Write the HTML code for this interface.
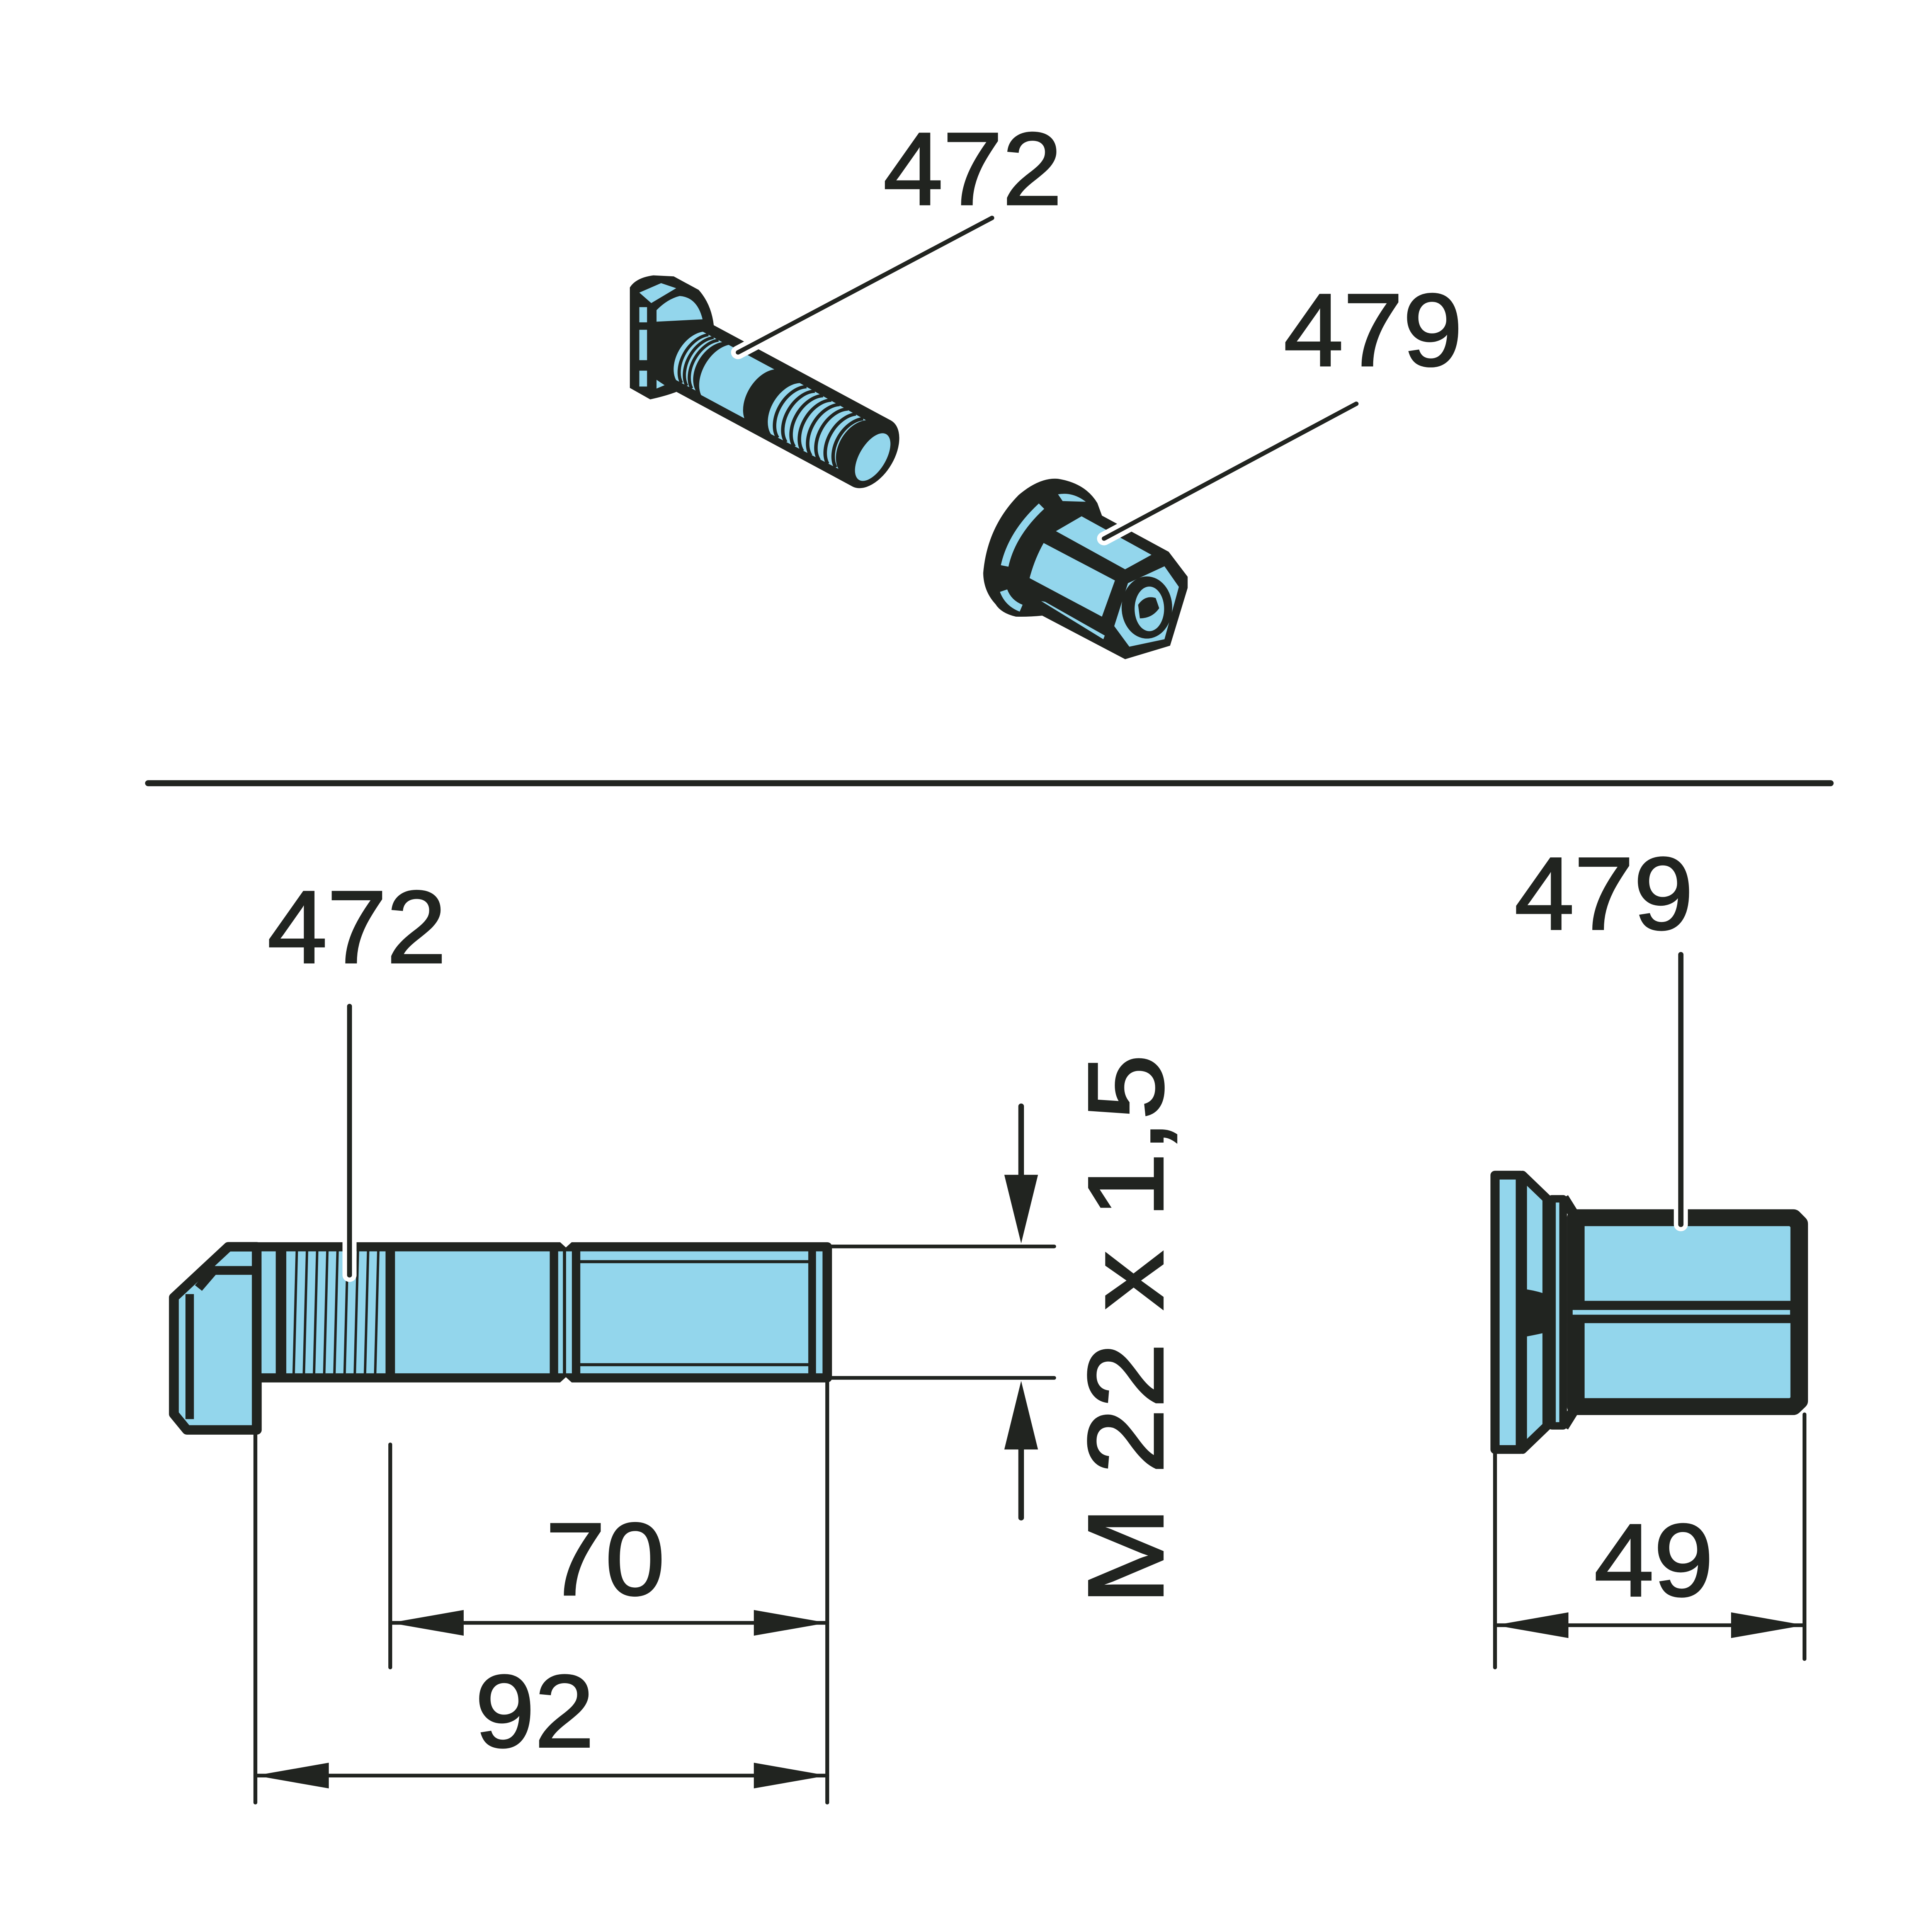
<!DOCTYPE html>
<html><head><meta charset="utf-8">
<style>html,body{margin:0;padding:0;background:#fff;overflow:hidden;width:100%;height:100%}svg{display:block;position:absolute;left:0;top:0;width:100vw;height:100vh}</style></head>
<body>
<svg xmlns="http://www.w3.org/2000/svg" viewBox="0 0 5500 5718" preserveAspectRatio="none">
<defs>
<style>
.t{font-family:"Liberation Sans",Arial,sans-serif;font-size:305px;fill:#212420;stroke:#212420;stroke-width:5px}
.L{fill:#93d6ec}
</style>
</defs>
<rect width="5500" height="5718" fill="#fff"/>

<!-- ===== Iso bolt 472 ===== -->
<g stroke-linejoin="round">
<path d="M1793,851 Q1810,822 1860,815 L1918,818 L1989,858 Q2025,900 2032,963 L1925,1160 Q1895,1172 1851,1182 L1793,1148 Z" fill="#212420"/>
<polygon class="L" points="1820,866 1854,897 1925,853 1882,838"/>
<path class="L" d="M1869,918 Q1900,885 1935,876 Q1985,880 2000,945 L1869,952 Z"/>
<rect class="L" x="1820" y="909" width="22" height="45"/>
<rect class="L" x="1820" y="976" width="22" height="90"/>
<rect class="L" x="1820" y="1097" width="22" height="47"/>
<polygon class="L" points="1869,1124 1892,1140 1869,1150"/>
</g>
<g transform="translate(1975,1059) rotate(29.2)">
<rect x="-30" y="-112" width="610" height="224" fill="#212420"/>
<ellipse cx="580" cy="0" rx="65" ry="112" fill="#212420"/>
<path class="L" d="M-15,-80 A60 90 0 0 0 -12,82 L52,82 A60 90 0 0 1 48,-80 Z"/>
<g fill="none" style="stroke:#212420;stroke-width:9px">
<path d="M3,-80 A60 90 0 0 0 6,82"/>
<path d="M20,-80 A60 90 0 0 0 23,82"/>
<path d="M36,-80 A60 90 0 0 0 39,82"/>
</g>
<path class="L" d="M68,-82 A60 95 0 0 0 72,86 L213,86 A60 95 0 0 1 217,-82 Z"/>
<path class="L" d="M300,-82 A60 92 0 0 0 302,90 L520,86 A60 90 0 0 1 518,-78 Z"/>
<g fill="none" style="stroke:#212420;stroke-width:10px">
<path d="M322,-82 A60 92 0 0 0 324,90"/>
<path d="M349,-82 A60 92 0 0 0 351,90"/>
<path d="M376,-82 A60 92 0 0 0 378,90"/>
<path d="M403,-82 A60 92 0 0 0 405,90"/>
<path d="M430,-82 A60 92 0 0 0 432,90"/>
<path d="M457,-82 A60 92 0 0 0 459,90"/>
<path d="M484,-80 A60 92 0 0 0 486,88"/>
<path d="M509,-78 A60 90 0 0 0 511,86"/>
</g>
<ellipse class="L" cx="588" cy="8" rx="38" ry="78"/>
</g>
<line x1="2824" y1="645" x2="2101" y2="1043" stroke="#fff" stroke-width="40" stroke-linecap="round"/>
<line x1="2824" y1="645" x2="2101" y2="1043" stroke="#212420" stroke-width="13" stroke-linecap="round"/>

<!-- ===== Iso nut 479 ===== -->
<path d="M2799,1696 Q2810,1560 2900,1465 Q2960,1412 3012,1417 Q3090,1430 3124,1489 L3137,1526 L3327,1633 L3381,1707 L3381,1740 L3331,1911 L3203,1951 L2967,1822 Q2930,1826 2892,1825 Q2850,1815 2834,1788 Q2800,1750 2799,1696 Z" fill="#212420"/>
<polygon class="L" points="3006,1572 3079,1528 3278,1642 3203,1685"/>
<path class="L" d="M2971,1607 L3174,1718 L3137,1825 L2931,1711 Q2945,1655 2971,1607 Z"/>
<polygon class="L" points="2964,1779 2975,1781 3145,1881 3141,1892"/>
<polygon class="L" points="3315,1676 3356,1737 3315,1892 3215,1914 3172,1853 3211,1726"/>
<ellipse cx="3265" cy="1798" rx="72" ry="92" fill="#212420"/>
<ellipse class="L" cx="3272" cy="1802" rx="42" ry="66"/>
<path d="M3240,1790 Q3260,1760 3290,1770 L3300,1800 Q3280,1830 3245,1830 Z" fill="#212420"/>
<path class="L" d="M3012,1463 Q3054,1455 3091,1485 L3025,1483 Z"/>
<path d="M2965,1498 Q2880,1580 2860,1675" fill="none" style="stroke:#93d6ec;stroke-width:22px"/>
<path d="M2857,1748 Q2870,1785 2907,1800" fill="none" style="stroke:#93d6ec;stroke-width:22px"/>
<line x1="3861" y1="1195" x2="3143" y2="1594" stroke="#fff" stroke-width="40" stroke-linecap="round"/>
<line x1="3861" y1="1195" x2="3143" y2="1594" stroke="#212420" stroke-width="13" stroke-linecap="round"/>

<text class="t" x="2769" y="605" text-anchor="middle">472</text>
<text class="t" x="3909" y="1082" text-anchor="middle">479</text>

<line x1="422" y1="2318" x2="5211" y2="2318" stroke="#212420" stroke-width="18" stroke-linecap="round"/>

<!-- ===== Side bolt 472 ===== -->
<g stroke="#212420" stroke-linejoin="round">
<polygon points="650,3690 731,3690 731,4232 532,4232 495,4185 495,3840" fill="#93d6ec" stroke-width="28"/>
<polyline points="731,3760 608,3760 565,3812" fill="none" stroke-width="26"/>
<line x1="540" y1="3830" x2="540" y2="4200" stroke-width="24"/>
<rect x="731" y="3690" width="1624" height="388" fill="#93d6ec" stroke-width="27"/>
<line x1="800" y1="3690" x2="800" y2="4078" stroke-width="30"/>
<g stroke-width="7">
<line x1="845" y1="3700" x2="836" y2="4068"/>
<line x1="874" y1="3700" x2="865" y2="4068"/>
<line x1="903" y1="3700" x2="894" y2="4068"/>
<line x1="932" y1="3700" x2="923" y2="4068"/>
<line x1="961" y1="3700" x2="952" y2="4068"/>
<line x1="990" y1="3700" x2="981" y2="4068"/>
<line x1="1019" y1="3700" x2="1010" y2="4068"/>
<line x1="1048" y1="3700" x2="1039" y2="4068"/>
<line x1="1077" y1="3700" x2="1068" y2="4068"/>
</g>
<line x1="1111" y1="3690" x2="1111" y2="4078" stroke-width="27"/>
<line x1="1577" y1="3690" x2="1577" y2="4078" stroke-width="24"/>
<line x1="1607" y1="3690" x2="1607" y2="4078" stroke-width="9"/>
<line x1="1640" y1="3690" x2="1640" y2="4078" stroke-width="24"/>
<line x1="1650" y1="3734" x2="2312" y2="3734" stroke-width="9"/>
<line x1="1650" y1="4039" x2="2312" y2="4039" stroke-width="9"/>
<line x1="2312" y1="3690" x2="2312" y2="4078" stroke-width="22"/>
</g>
<polygon points="1593,3675 1611,3692 1629,3675" fill="#fff"/>
<polygon points="1593,4093 1611,4076 1629,4093" fill="#fff"/>
<line x1="995" y1="2978" x2="995" y2="3774" stroke="#fff" stroke-width="40" stroke-linecap="round"/>
<line x1="995" y1="2978" x2="995" y2="3774" stroke="#212420" stroke-width="14" stroke-linecap="round"/>
<text class="t" x="1016" y="2849" text-anchor="middle">472</text>

<g stroke="#212420" stroke-width="11" stroke-linecap="round" fill="none">
<line x1="2355" y1="3689" x2="3001" y2="3689"/>
<line x1="2355" y1="4078" x2="3001" y2="4078"/>
<line x1="727" y1="4232" x2="727" y2="5335"/>
<line x1="2355" y1="4092" x2="2355" y2="5335"/>
<line x1="1111" y1="4275" x2="1111" y2="4935"/>
<line x1="1111" y1="4803" x2="2355" y2="4803"/>
<line x1="727" y1="5255" x2="2355" y2="5255"/>
<line x1="4256" y1="4301" x2="4256" y2="4935"/>
<line x1="5137" y1="4186" x2="5137" y2="4910"/>
<line x1="4256" y1="4810" x2="5137" y2="4810"/>
</g>
<g stroke="#212420" stroke-width="16" stroke-linecap="round">
<line x1="2907" y1="3274" x2="2907" y2="3490"/>
<line x1="2907" y1="4280" x2="2907" y2="4492"/>
</g>
<g fill="#212420">
<polygon points="2859,3477 2955,3477 2907,3680"/>
<polygon points="2859,4290 2955,4290 2907,4087"/>
<polygon points="1111,4803 1320,4765 1320,4841"/>
<polygon points="2355,4803 2146,4765 2146,4841"/>
<polygon points="727,5255 936,5217 936,5293"/>
<polygon points="2355,5255 2146,5217 2146,5293"/>
<polygon points="4256,4810 4465,4772 4465,4848"/>
<polygon points="5137,4810 4928,4772 4928,4848"/>
</g>
<text class="t" x="1723" y="4720" text-anchor="middle">70</text>
<text class="t" x="1522" y="5170" text-anchor="middle">92</text>
<text class="t" x="4708" y="4723" text-anchor="middle">49</text>
<text class="t" transform="translate(3310,4750) rotate(-90)" textLength="1630" lengthAdjust="spacingAndGlyphs">M 22 x 1,5</text>

<!-- ===== Side nut 479 ===== -->
<g stroke="#212420" stroke-linejoin="round">
<rect x="4256" y="3478" width="72" height="812" fill="#93d6ec" stroke-width="26"/>
<polygon points="4334,3478 4404,3548 4404,4220 4334,4290" fill="#93d6ec" stroke-width="26"/>
<path d="M4338,3815 Q4365,3818 4395,3828 L4395,3945 Q4365,3952 4338,3957 Z" fill="#212420" stroke="none"/>
<rect x="4418" y="3548" width="32" height="672" fill="#93d6ec" stroke-width="22"/>
<path d="M4451,3545 L4478,3590 M4451,4223 L4478,4178" stroke-width="30" fill="none"/>
<polygon points="4486,3604 5105,3604 5122,3622 5122,4146 5105,4163 4486,4163" fill="#93d6ec" stroke-width="50"/>
<rect x="4461" y="3850" width="661" height="66" fill="#212420" stroke="none"/>
<rect x="4477" y="3877" width="619" height="14" fill="#93d6ec" stroke="none"/>
<path d="M4475,3628 Q4510,3740 4475,3850 Z M4475,3916 Q4510,4030 4475,4140 Z" fill="#212420" stroke="none"/>
</g>
<line x1="4785" y1="2825" x2="4785" y2="3624" stroke="#fff" stroke-width="40" stroke-linecap="round"/>
<line x1="4785" y1="2825" x2="4785" y2="3624" stroke="#212420" stroke-width="15" stroke-linecap="round"/>
<text class="t" x="4566" y="2750" text-anchor="middle">479</text>
</svg>
</body></html>
